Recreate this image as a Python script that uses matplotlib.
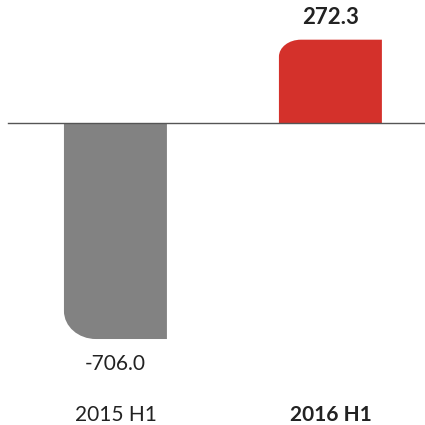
import matplotlib
matplotlib.use("Agg")
import matplotlib.pyplot as plt
from matplotlib.path import Path
from matplotlib.patches import PathPatch
import numpy as np

periods = ["2015 H1", "2016 H1"]
values = [-706.0, 272.3]
value_labels = ["-706.0", "272.3"]

bar_colors = ["#828282", "#d4312b"]
text_color = "#222222"


def rounded_bar_path(x0, x1, y0, y1, rx, ry, corner):
    # bar with one rounded corner ("top-left" or "bottom-left")
    k = 0.5523
    if corner == "top-left":
        verts = [(x0, y0), (x1, y0), (x1, y1), (x0 + rx, y1),
                 (x0 + rx * (1 - k), y1), (x0, y1 - ry * (1 - k)), (x0, y1 - ry),
                 (x0, y0)]
    else:
        verts = [(x0, y1), (x1, y1), (x1, y0), (x0 + rx, y0),
                 (x0 + rx * (1 - k), y0), (x0, y0 + ry * (1 - k)), (x0, y0 + ry),
                 (x0, y1)]
    codes = [Path.MOVETO, Path.LINETO, Path.LINETO, Path.LINETO,
             Path.CURVE4, Path.CURVE4, Path.CURVE4, Path.CLOSEPOLY]
    return Path(verts, codes)


fig = plt.figure(figsize=(4.25, 4.25), dpi=100)
ax = fig.add_axes([0, 0, 1, 1])
ax.set_xlim(-0.537, 1.44)
ax.set_ylim(-987, 402)
ax.axis("off")

x = np.arange(len(periods))
bars = ax.bar(x, values, width=0.479, color=bar_colors)

# corner radii in pixels, turned into data units
px_x = (1.44 + 0.537) / 425
px_y = (402 + 987) / 425

for i, rect in enumerate(bars):
    rect.set_visible(False)
    x0 = rect.get_x()
    x1 = x0 + rect.get_width()
    y0 = min(0, values[i])
    y1 = max(0, values[i])
    if values[i] >= 0:
        p = rounded_bar_path(x0, x1, y0, y1, 22 * px_x, 17 * px_y, "top-left")
    else:
        p = rounded_bar_path(x0, x1, y0, y1, 32 * px_x, 28 * px_y, "bottom-left")
    ax.add_patch(PathPatch(p, facecolor=bar_colors[i], edgecolor="none"))

ax.axhline(0, xmin=8 / 425, xmax=1, color="#555555", lw=1)

for i, v in enumerate(values):
    bold = v > 0
    off = 22 if v > 0 else -25
    ax.annotate(value_labels[i], (x[i], v), xytext=(0, off * 0.72),
                textcoords="offset points", ha="center", va="center",
                fontsize=16 if bold else 15, family="Lato", color=text_color,
                fontweight="bold" if bold else "normal")
    ax.text(x[i], -987 + 10 * px_y, periods[i], ha="center", va="center",
            fontsize=15, family="Lato", color=text_color,
            fontweight="bold" if bold else "normal")

fig.savefig("out.png", dpi=100)
